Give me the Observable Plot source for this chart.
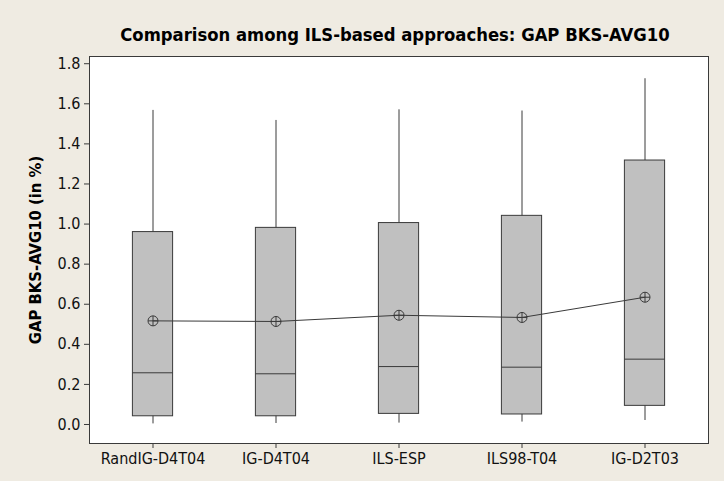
<!DOCTYPE html>
<html>
<head>
<meta charset="utf-8">
<script src="https://cdn.jsdelivr.net/npm/d3@7"></script>
<script src="https://cdn.jsdelivr.net/npm/@observablehq/plot@0.6"></script>
<style>
  html, body { margin: 0; padding: 0; background: #EFEBE2; }
  #chart svg { display: block; }
</style>
</head>
<body>
<div id="chart"></div>
<script>
const title = "Comparison among ILS-based approaches: GAP BKS-AVG10";
const yTitle = "GAP BKS-AVG10 (in %)";
const categories = ["RandIG-D4T04", "IG-D4T04", "ILS-ESP", "ILS98-T04", "IG-D2T03"];
const whiskerLow  = [0.003, 0.005, 0.007, 0.012, 0.020];
const q1          = [0.041, 0.041, 0.053, 0.050, 0.093];
const median      = [0.258, 0.253, 0.289, 0.286, 0.326];
const q3          = [0.960, 0.981, 1.005, 1.041, 1.317];
const whiskerHigh = [1.567, 1.517, 1.570, 1.564, 1.725];
const mean        = [0.517, 0.514, 0.545, 0.534, 0.635];
const yTicks = [0, 0.2, 0.4, 0.6, 0.8, 1.0, 1.2, 1.4, 1.6, 1.8];

const rows = categories.map((c, i) => ({
  cat: c, lo: whiskerLow[i], q1: q1[i], med: median[i], q3: q3[i], hi: whiskerHigh[i], mean: mean[i]
}));

const ink = "#3a3a3a";
const font = "'DejaVu Sans Condensed', 'DejaVu Sans', sans-serif";

const circlePlus = {
  draw(context, size) {
    const r = Math.sqrt(size / Math.PI);
    context.moveTo(r, 0);
    context.arc(0, 0, r, 0, 2 * Math.PI);
    context.moveTo(-r, 0);
    context.lineTo(r, 0);
    context.moveTo(0, -r);
    context.lineTo(0, r);
  }
};

const bandW = (708 - 89) / categories.length;
const inset = (bandW - 41) / 2;

const chart = Plot.plot({
  width: 724,
  height: 481,
  marginLeft: 89,
  marginRight: 16,
  marginTop: 56,
  marginBottom: 38,
  style: { background: "#EFEBE2", fontFamily: font, fontSize: "16px", color: "#000" },
  x: { domain: categories, padding: 0, label: null, axis: null },
  y: { domain: [-0.0948, 1.836], label: null, axis: null },
  marks: [
    Plot.frame({ fill: "white", stroke: null }),
    Plot.axisY(yTicks, { tickSize: 5, tickPadding: 4, tickFormat: d3.format(".1f"), stroke: ink, fontSize: 16, fill: "#111" }),
    Plot.axisX({ tickSize: 5, tickPadding: 4, stroke: ink, fontSize: 16, fill: "#111" }),
    Plot.ruleX(rows, { x: "cat", y1: "lo", y2: "hi", stroke: ink, strokeWidth: 1 }),
    Plot.barY(rows, { x: "cat", y1: "q1", y2: "q3", fill: "#C0C0C0", stroke: ink, strokeWidth: 1, insetLeft: inset, insetRight: inset }),
    Plot.tickY(rows, { x: "cat", y: "med", stroke: ink, strokeWidth: 1, insetLeft: inset, insetRight: inset }),
    Plot.line(rows, { x: "cat", y: "mean", stroke: ink, strokeWidth: 1 }),
    Plot.dot(rows, { x: "cat", y: "mean", r: 5, symbol: circlePlus, stroke: ink, fill: "none", strokeWidth: 1 }),
    Plot.frame({ stroke: ink, strokeWidth: 1 }),
    Plot.text([title], { frameAnchor: "top", dx: -4, dy: -16, lineAnchor: "bottom", text: d => d, fontSize: 18.3, fontWeight: "bold", fill: "#000" }),
    Plot.text([yTitle], { frameAnchor: "left", textAnchor: "middle", dx: -54, rotate: -90, text: d => d, fontSize: 16.5, fontWeight: "bold", fill: "#000" })
  ]
});

document.getElementById("chart").appendChild(chart);
</script>
</body>
</html>
